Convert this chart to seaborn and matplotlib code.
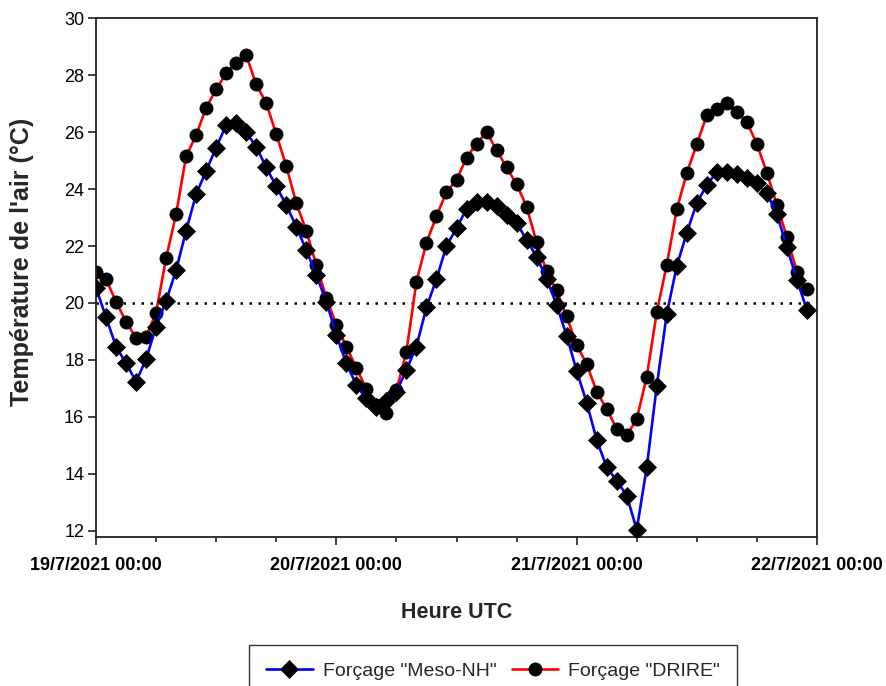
import matplotlib
matplotlib.use("Agg")
import matplotlib.pyplot as plt
import matplotlib.dates as mdates
import seaborn as sns
import pandas as pd
import numpy as np

# ---- data (hourly values) ----
start_time = "2021-07-19 00:00"
n_hours = 72

meso_nh = [20.54, 19.50, 18.47, 17.88, 17.24, 18.02, 19.17, 20.07, 21.15, 22.54,
           23.82, 24.64, 25.46, 26.25, 26.31, 25.99, 25.49, 24.76, 24.10, 23.44,
           22.68, 21.86, 20.98, 20.05, 18.88, 17.88, 17.12, 16.66, 16.36, 16.54,
           16.88, 17.65, 18.47, 19.85, 20.84, 22.01, 22.62, 23.31, 23.54, 23.56,
           23.40, 23.09, 22.82, 22.21, 21.63, 20.85, 19.93, 18.85, 17.62, 16.50,
           15.19, 14.23, 13.76, 13.23, 12.04, 14.23, 17.09, 19.62, 21.30, 22.47,
           23.52, 24.14, 24.61, 24.61, 24.52, 24.38, 24.20, 23.85, 23.12, 21.95,
           20.81, 19.75]

drire = [21.10, 20.83, 20.05, 19.34, 18.78, 18.82, 19.66, 21.57, 23.12, 25.16,
         25.89, 26.86, 27.50, 28.08, 28.43, 28.70, 27.68, 27.02, 25.93, 24.81,
         23.51, 22.53, 21.33, 20.19, 19.23, 18.47, 17.72, 16.98, 16.42, 16.14,
         16.93, 18.29, 20.75, 22.12, 23.05, 23.90, 24.32, 25.10, 25.60, 26.00,
         25.38, 24.76, 24.18, 23.38, 22.13, 21.12, 20.44, 19.53, 18.53, 17.85,
         16.89, 16.27, 15.58, 15.35, 15.92, 17.41, 19.67, 21.35, 23.29, 24.57,
         25.58, 26.60, 26.83, 27.03, 26.71, 26.36, 25.58, 24.57, 23.44, 22.31,
         21.10, 20.48]

reference_temp = 20
y_ticks = [12, 14, 16, 18, 20, 22, 24, 26, 28, 30]
x_tick_dates = ["2021-07-19", "2021-07-20", "2021-07-21", "2021-07-22"]
x_tick_labels = ["19/7/2021 00:00", "20/7/2021 00:00", "21/7/2021 00:00", "22/7/2021 00:00"]
label_meso = 'Forçage "Meso-NH"'
label_drire = 'Forçage "DRIRE"'

times = pd.date_range(start_time, periods=n_hours, freq="h")
df = pd.DataFrame({"time": times, "meso": meso_nh, "drire": drire})

# ---- style ----
sns.set_style("ticks")
plt.rcParams["font.family"] = ["Liberation Sans", "DejaVu Sans"]

W, H = 887, 686
fig = plt.figure(figsize=(W / 100, H / 100), dpi=100)
ax_left, ax_right, ax_top, ax_bottom = 96, 817, 18.3, 536.7
ax = fig.add_axes([ax_left / W, 1 - ax_bottom / H, (ax_right - ax_left) / W, (ax_bottom - ax_top) / H])

ax.axhline(reference_temp, color="black", linestyle=(0, (1, 2.6)), linewidth=1.8, zorder=1)

sns.lineplot(data=df, x="time", y="meso", ax=ax, color="#0000ff", linewidth=1.9,
             marker="D", markersize=9, markerfacecolor="black",
             markeredgecolor="black", markeredgewidth=0.5, label=label_meso, zorder=3)
sns.lineplot(data=df, x="time", y="drire", ax=ax, color="#ff0000", linewidth=1.9,
             marker="o", markersize=9.5, markerfacecolor="black",
             markeredgecolor="black", markeredgewidth=0.5, label=label_drire, zorder=2)

ax.set_xlim(pd.Timestamp(x_tick_dates[0]), pd.Timestamp(x_tick_dates[-1]))
ax.set_ylim(11.79, 30)
ax.set_yticks(y_ticks)
ax.set_yticklabels([str(v) for v in y_ticks], fontsize=13)
ax.set_xticks([pd.Timestamp(d) for d in x_tick_dates])
ax.set_xticklabels(x_tick_labels, fontsize=13, fontweight="bold")
ax.xaxis.set_minor_locator(mdates.HourLocator(byhour=[6, 12, 18]))

for s in ax.spines.values():
    s.set_visible(True)
    s.set_color("#222222")
    s.set_linewidth(1.3)

ax.tick_params(axis="y", which="major", direction="out", length=5.5, width=1.2, pad=3, colors="#222222", labelcolor="black")
ax.tick_params(axis="x", which="major", direction="out", length=5.8, width=1.2, pad=9, colors="#222222", labelcolor="black")
ax.tick_params(axis="x", which="minor", direction="out", length=3.6, width=1.2, colors="#222222")

ax.set_xlabel("Heure UTC", fontsize=15.5, fontweight="bold", labelpad=20)
ax.set_ylabel("Température de l'air (°C)", fontsize=18, fontweight="bold")
ax.yaxis.set_label_coords((34 - ax_left) / (ax_right - ax_left),
                          (ax_bottom - 262) / (ax_bottom - ax_top))

ax.get_legend().remove()
handles, labels = ax.get_legend_handles_labels()
leg = fig.legend(handles, labels, loc="upper center", ncol=2,
                 bbox_to_anchor=(493 / W, 1 - 635 / H), fontsize=14,
                 frameon=True, fancybox=False, edgecolor="black",
                 handlelength=2.4, handletextpad=0.5, columnspacing=0.8,
                 borderpad=0.9)
leg.get_frame().set_linewidth(1.0)

fig.savefig("out.png", dpi=100)
